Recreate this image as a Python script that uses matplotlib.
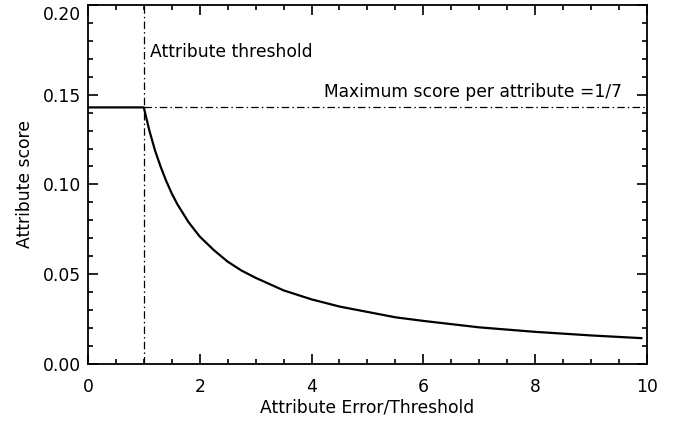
import numpy as np
import matplotlib
matplotlib.use('Agg')
import matplotlib.pyplot as plt
import matplotlib.transforms as mtrans
from matplotlib.ticker import MultipleLocator

''' ---------------- data (read off the figure) ---------------- '''
x_err = [0.0, 1.0, 1.1, 1.2, 1.3, 1.4, 1.5, 1.6, 1.8, 2.0, 2.25, 2.5, 2.75,
         3.0, 3.5, 4.0, 4.5, 5.0, 5.5, 6.0, 7.0, 8.0, 9.0, 9.9]
y_score = [0.1429, 0.1429, 0.130, 0.119, 0.110, 0.102, 0.095, 0.089, 0.079,
           0.071, 0.0635, 0.057, 0.052, 0.048, 0.041, 0.036, 0.032, 0.029,
           0.026, 0.024, 0.0204, 0.0179, 0.0159, 0.0144]
thresh_x = 1.0
max_score = 1.0 / 7

x_lab = 'Attribute Error/Threshold'
y_lab = 'Attribute score'
x_lims, y_lims = [0, 10], [0, 0.20]

''' ---------------- figure ---------------- '''
plt.rcParams['font.family'] = 'DejaVu Sans'
fsize = 12.3
dashdot = (0, (6, 2.5, 1.2, 2.5))

fig = plt.figure(figsize=(6.76, 4.23), dpi=100)
ax = fig.add_axes([0.130, 0.1395, 0.827, 0.849])

ax.plot(x_err, y_score, color='black', lw=1.6)
ax.axvline(thresh_x, color='black', lw=0.9, ls=dashdot)
ax.plot([thresh_x, x_lims[1]], [max_score, max_score], color='black',
        lw=0.9, ls=dashdot)

ax.text(1.11, 0.174, 'Attribute threshold', fontsize=fsize, va='center')
ax.text(9.55, 0.1515, 'Maximum score per attribute =1/7', fontsize=fsize,
        ha='right', va='center')

ax.set_xlim(x_lims)
ax.set_ylim(y_lims)
ax.set_xlabel(x_lab, fontsize=fsize, labelpad=2)
ax.set_ylabel(y_lab, fontsize=fsize, labelpad=6)
ax.xaxis.set_major_locator(MultipleLocator(2))
ax.xaxis.set_minor_locator(MultipleLocator(0.5))
ax.yaxis.set_major_locator(MultipleLocator(0.05))
ax.yaxis.set_minor_locator(MultipleLocator(0.01))
ax.yaxis.set_major_formatter(plt.FormatStrFormatter('%.2f'))
ax.tick_params(which='both', direction='in', top=True, right=True,
               labelsize=fsize, width=1.2)
ax.tick_params(which='major', length=7)
ax.tick_params(which='minor', length=3.5)
ax.tick_params(axis='x', which='major', pad=10)
ax.tick_params(axis='y', which='major', pad=5)
for s in ax.spines.values():
    s.set_linewidth(1.3)

# top y label sits a bit lower so it stays inside the figure
fig.canvas.draw()
for lab in ax.get_yticklabels():
    if lab.get_text() == '0.20':
        lab.set_transform(lab.get_transform() +
                          mtrans.ScaledTranslation(0, -6 / 72, fig.dpi_scale_trans))

fig.savefig('out.png', dpi=100)
